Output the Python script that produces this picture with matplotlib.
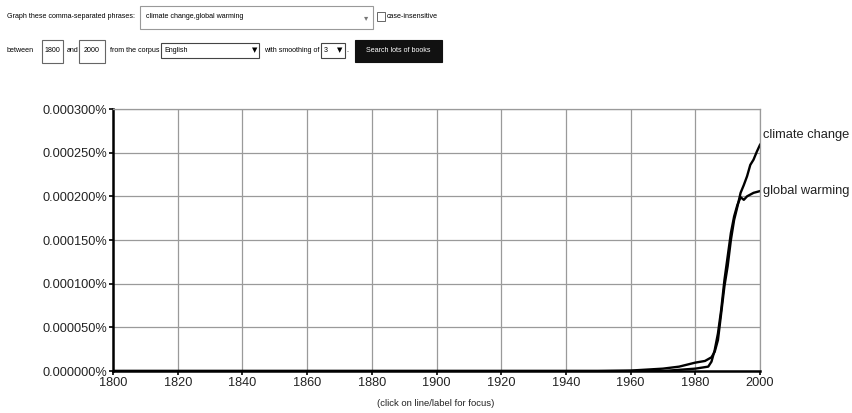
import matplotlib
matplotlib.use("Agg")
import matplotlib.pyplot as plt
from matplotlib.patches import Rectangle
from matplotlib.ticker import FuncFormatter, MultipleLocator

plt.rcParams['font.family'] = ['Liberation Sans', 'DejaVu Sans']

# ---- data (percent of corpus) ----
years_cc = [1800, 1950, 1960, 1970, 1975, 1980, 1983, 1985, 1986, 1987, 1988, 1989,
            1990, 1991, 1992, 1993, 1994, 1995, 1996, 1997, 1998, 1999, 2000]
climate_change = [0, 0, 0.0000005, 0.0000027, 0.000005, 0.0000096, 0.0000115, 0.0000157,
                  0.000022, 0.0000355, 0.000066, 0.000097, 0.00012, 0.00015, 0.000173,
                  0.000188, 0.000204, 0.000213, 0.000223, 0.000236, 0.000242, 0.000251,
                  0.000259]
years_gw = [1800, 1970, 1980, 1984, 1985, 1986, 1987, 1988, 1989, 1990, 1991, 1992,
            1993, 1994, 1995, 1996, 1997, 1998, 1999, 2000]
global_warming = [0, 0, 0.0000027, 0.000005, 0.0000107, 0.000024, 0.000043, 0.00007,
                  0.000104, 0.000131, 0.000158, 0.000177, 0.00019, 0.000199, 0.000196,
                  0.000200, 0.000202, 0.000204, 0.000205, 0.000206]
series_labels = ["climate change", "global warming"]

W, H = 852, 413
fig = plt.figure(figsize=(W / 100, H / 100), dpi=100)
fig.patch.set_facecolor("white")

def px(x, y):
    return x / W, 1 - y / H

ax = fig.add_axes([113 / W, 1 - 371 / H, (760 - 113) / W, (371 - 109) / H])
ax.plot(years_cc, climate_change, color="black", lw=1.7, solid_joinstyle="round")
ax.plot(years_gw, global_warming, color="black", lw=1.7, solid_joinstyle="round")
ax.set_xlim(1800, 2000)
ax.set_ylim(0, 0.0003)
ax.xaxis.set_major_locator(MultipleLocator(20))
ax.yaxis.set_major_locator(MultipleLocator(0.00005))
ax.yaxis.set_major_formatter(FuncFormatter(lambda v, p: f"{v:.6f}%"))
ax.grid(True, color="#9a9a9a", lw=0.9)
ax.set_axisbelow(True)
for s in ["top", "right"]:
    ax.spines[s].set_color("#9a9a9a")
    ax.spines[s].set_linewidth(0.9)
for s in ["left", "bottom"]:
    ax.spines[s].set_color("black")
    ax.spines[s].set_linewidth(1.8)
ax.tick_params(axis="both", length=3, width=1.2, labelsize=9.2, colors="black", pad=1)
ax.tick_params(axis="x", pad=1.5)
for lab in ax.get_xticklabels() + ax.get_yticklabels():
    lab.set_color("#222222")

ax.text(2000.8, climate_change[-1] + 0.000011, series_labels[0], fontsize=9.3,
        va="center", ha="left", color="#222222")
ax.text(2000.8, global_warming[-1], series_labels[1], fontsize=9.3,
        va="center", ha="left", color="#222222")

fig.text(*px(436, 403), "(click on line/label for focus)", fontsize=6.8,
         ha="center", va="center", color="#222222")

# ---- header form ----
fs = 5.1
fig.text(*px(7, 17), "Graph these comma-separated phrases:", fontsize=fs, va="center")
fig.patches.append(Rectangle(px(140, 29), 233 / W, 23 / H, transform=fig.transFigure,
                             fill=False, ec="#999999", lw=0.8))
fig.text(*px(146, 17), "climate change,global warming", fontsize=fs, va="center")
fig.text(*px(364, 18), "▾", fontsize=6, va="center", color="#777777", family="DejaVu Sans")
fig.patches.append(Rectangle(px(377, 21), 8 / W, 9 / H, transform=fig.transFigure,
                             fill=False, ec="#666666", lw=0.7))
fig.text(*px(387, 16), "case-insensitive", fontsize=fs, va="center")

y2 = 51
fig.text(*px(7, y2), "between", fontsize=fs, va="center")
fig.patches.append(Rectangle(px(42, 63), 21 / W, 23 / H, transform=fig.transFigure,
                             fill=False, ec="#666666", lw=0.8))
fig.text(*px(52.5, y2), "1800", fontsize=fs, va="center", ha="center")
fig.text(*px(67, y2), "and", fontsize=fs, va="center")
fig.patches.append(Rectangle(px(79, 63), 26 / W, 23 / H, transform=fig.transFigure,
                             fill=False, ec="#666666", lw=0.8))
fig.text(*px(92, y2), "2000", fontsize=fs, va="center", ha="center")
fig.text(*px(110, y2), "from the corpus", fontsize=fs, va="center")
fig.patches.append(Rectangle(px(161, 58), 98 / W, 15 / H, transform=fig.transFigure,
                             fill=False, ec="#444444", lw=0.8))
fig.text(*px(164, y2 - 1), "English", fontsize=fs, va="center")
fig.text(*px(252, y2 - 1), "▼", fontsize=5, va="center", family="DejaVu Sans")
fig.text(*px(264, y2), "with smoothing of", fontsize=fs, va="center")
fig.patches.append(Rectangle(px(321, 58), 24 / W, 15 / H, transform=fig.transFigure,
                             fill=False, ec="#444444", lw=0.8))
fig.text(*px(324, y2 - 1), "3", fontsize=fs, va="center")
fig.text(*px(337, y2 - 1), "▼", fontsize=5, va="center", family="DejaVu Sans")
fig.text(*px(346, y2), ".", fontsize=fs, va="center")
fig.patches.append(Rectangle(px(355, 62), 87 / W, 22 / H, transform=fig.transFigure,
                             fill=True, fc="#111111", ec="#111111", lw=0.8))
fig.text(*px(398.5, y2), "Search lots of books", fontsize=fs, va="center", ha="center",
         color="white")

fig.savefig("out.png", dpi=100)
